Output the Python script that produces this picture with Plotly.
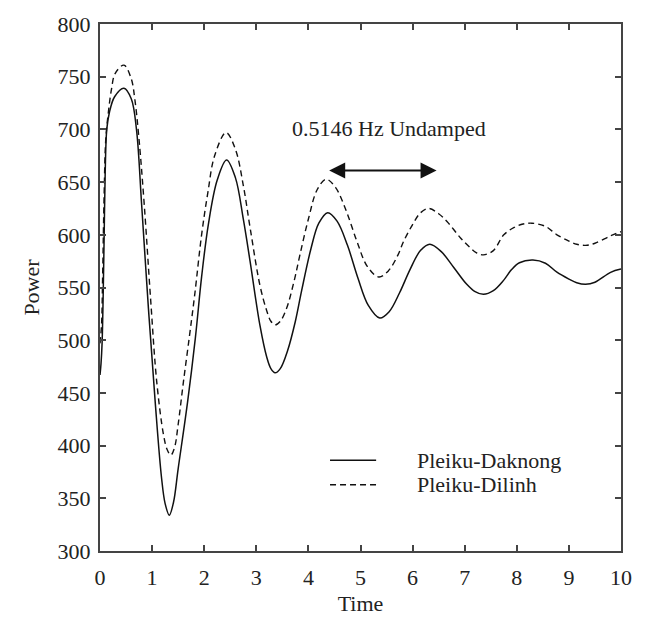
import plotly.graph_objects as go

# Pleiku-Daknong (solid)
t_daknong = [0, 0.02, 0.04, 0.06, 0.08, 0.10, 0.13, 0.18, 0.28, 0.46, 0.60, 0.70, 0.80, 0.93, 1.06, 1.18, 1.25, 1.33,
             1.41, 1.50, 1.68, 1.83, 1.95, 2.08, 2.25, 2.43, 2.60, 2.75, 2.88, 3.07, 3.20, 3.28, 3.36,
             3.46, 3.60, 3.75, 3.87, 4.05, 4.20, 4.37, 4.55, 4.75, 4.95, 5.15, 5.37,
             5.55, 5.75, 5.95, 6.15, 6.33, 6.55, 6.79, 7.04, 7.20, 7.36,
             7.55, 7.75, 7.90, 8.05, 8.31, 8.55, 8.77, 9.00, 9.15, 9.32, 9.50, 9.80, 10]
p_daknong = [467, 478, 497, 540, 600, 660, 700, 716, 731, 739, 729, 700, 628, 530, 441, 370, 345, 334,
             346, 378, 441, 502, 560, 610, 652, 671, 654, 615, 575, 514, 484, 473, 469,
             473, 490, 518, 547, 587, 611, 621, 613, 590, 559, 533, 521,
             527, 545, 567, 585, 591, 584, 569, 553, 546, 543.5,
             547, 557, 567, 573.5, 576, 573, 564.5, 558, 554.5, 553, 555, 564.4, 567.5]

# Pleiku-Dilinh (dashed)
t_dilinh = [0, 0.03, 0.05, 0.08, 0.11, 0.16, 0.22, 0.29, 0.46, 0.60, 0.67, 0.75, 0.85, 0.97, 1.09, 1.22, 1.29, 1.36,
            1.43, 1.50, 1.60, 1.72, 1.82, 1.95, 2.07, 2.20, 2.42, 2.60, 2.75, 2.88, 3.07, 3.20, 3.28, 3.36,
            3.46, 3.58, 3.72, 3.84, 4.00, 4.17, 4.34, 4.52, 4.72, 4.93, 5.13, 5.35,
            5.53, 5.72, 5.83, 6.00, 6.15, 6.31, 6.50, 6.66, 6.92, 7.10, 7.22, 7.36,
            7.55, 7.75, 7.95, 8.10, 8.29, 8.55, 8.77, 9.00, 9.15, 9.32, 9.50, 9.80, 10]
p_dilinh = [497, 515, 560, 640, 690, 716, 738, 753, 761, 748, 728, 690, 628, 540, 460, 410, 396, 391,
            398, 420, 460, 505, 544, 600, 640, 675, 697, 681, 647, 607, 552, 528, 518, 514.5,
            518, 530, 555, 581.5, 615, 643, 652.7, 645, 623.5, 594, 570, 560,
            565.5, 581, 594, 609.7, 620.8, 625, 620, 612.7, 597, 588, 583, 581,
            585, 600, 607, 610, 611, 608, 600, 594, 591, 590, 592, 599, 603]

series_names = ["Pleiku-Daknong", "Pleiku-Dilinh"]
x_ticks = [0, 1, 2, 3, 4, 5, 6, 7, 8, 9, 10]
y_ticks = [300, 350, 400, 450, 500, 550, 600, 650, 700, 750, 800]

FONT = "Liberation Serif, Times New Roman, serif"
FS = 22
TXT = "#222222"

fig = go.Figure()
fig.add_trace(go.Scatter(x=t_daknong, y=p_daknong, mode="lines", name=series_names[0], showlegend=False,
                         line=dict(color="#111111", width=1.5, shape="spline", smoothing=1.0)))
fig.add_trace(go.Scatter(x=t_dilinh, y=p_dilinh, mode="lines", name=series_names[1], showlegend=False,
                         line=dict(color="#111111", width=1.4, dash="6px,4px", shape="spline", smoothing=1.0)))

axis_common = dict(showgrid=False, zeroline=False, showline=True, linecolor="#444444", linewidth=2,
                   mirror="ticks", ticks="inside", ticklen=6, tickwidth=1.5, tickcolor="#444444",
                   tickfont=dict(family=FONT, size=FS, color=TXT))

fig.update_xaxes(range=[0, 10], tickvals=x_ticks, ticklabelstandoff=6,
                 title=dict(text="Time", font=dict(family=FONT, size=FS, color=TXT), standoff=6),
                 **axis_common)
fig.update_yaxes(range=[300, 800], tickvals=y_ticks, ticklabelstandoff=3,
                 title=dict(text="Power", font=dict(family=FONT, size=FS, color=TXT), standoff=12),
                 **axis_common)

# double-headed arrow for the undamped period
fig.add_annotation(x=6.46, y=661, ax=4.37, ay=661, xref="x", yref="y", axref="x", ayref="y",
                   text="", showarrow=True, arrowhead=2, startarrowhead=2, arrowside="end+start",
                   arrowsize=1.6, startarrowsize=1.6, arrowwidth=2, arrowcolor="#111111")
fig.add_annotation(x=5.55, y=701, xref="x", yref="y", text="0.5146 Hz Undamped", showarrow=False,
                   font=dict(family=FONT, size=FS, color=TXT))

# legend drawn as line samples + labels (paper coordinates)
legend_rows = [(0.172, "solid"), (0.1255, "6px,4px")]
for (ypos, dash), name in zip(legend_rows, series_names):
    fig.add_shape(type="line", xref="paper", yref="paper", x0=0.4415, x1=0.530, y0=ypos, y1=ypos,
                  line=dict(color="#111111", width=1.5, dash=dash))
    fig.add_annotation(xref="paper", yref="paper", x=0.6046, y=ypos, xanchor="left", yanchor="middle",
                       text=name, showarrow=False, font=dict(family=FONT, size=FS, color=TXT))

fig.update_layout(
    width=646, height=624,
    margin=dict(l=100, r=25, t=16, b=73),
    paper_bgcolor="white", plot_bgcolor="white",
    showlegend=False,
)

fig.write_html("out.html")
